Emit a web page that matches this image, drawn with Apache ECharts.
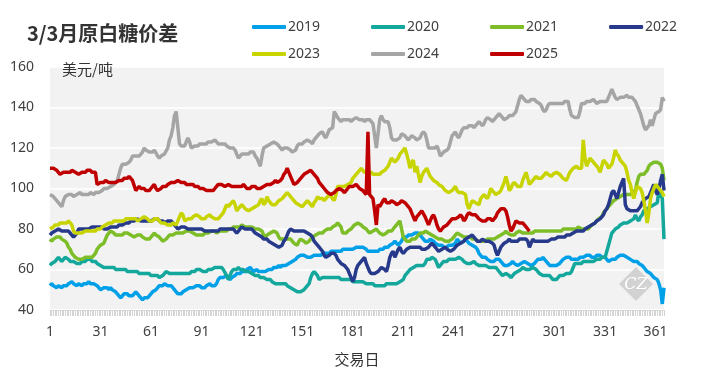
<!DOCTYPE html>
<html><head><meta charset="utf-8">
<script src="https://cdn.jsdelivr.net/npm/echarts@6/dist/echarts.min.js"></script>
<style>html,body{margin:0;padding:0;background:#fff}#c{width:702px;height:372px}</style>
</head><body><div id="c"></div>
<script>
const title = '3/3月原白糖价差';
const unit = '美元/吨';
const xName = '交易日';
const seriesNames = ['2019','2020','2021','2022','2023','2024','2025'];
const dayCount = 366;

const s2019 = [52,53,52,52,51,52,52,51,52,52, 52,53,53,54,53,53,52,53,53,52, 53,53,53,54,53,53,53,53,52,51,
50,50,51,51,51,50,51,50,50,49, 48,47,46,47,48,48,48,47,47,47, 48,49,48,47,46,45,46,46,46,47,
48,49,49,50,51,52,52,52,53,53, 52,52,52,51,51,49,48,48,48,49, 49,50,50,51,51,51,51,52,52,52,
51,51,51,52,52,53,52,52,52,53, 55,56,56,56,56,57,56,55,56,56, 57,58,58,58,59,59,59,60,60,61,
60,59,59,60,59,59,59,59,59,59, 60,60,60,61,61,61,62,61,62,62, 62,62,63,63,64,64,65,66,66,67,
67,67,67,66,66,66,66,67,67,67, 67,67,68,68,68,68,68,69,69,69, 69,69,69,69,70,70,70,70,70,70,
70,70,71,71,71,71,71,71,70,69, 69,69,69,69,69,69,70,70,70,71, 71,71,72,72,73,74,73,72,72,74,
76,76,76,77,77,77,77,78,78,78, 77,76,76,74,74,74,75,75,74,73, 73,72,72,72,71,71,71,72,72,72,
72,73,75,74,73,73,74,75,74,73, 73,72,72,71,70,68,67,66,66,66, 65,65,64,64,64,65,65,65,64,63,
62,62,62,62,63,64,63,63,62,62, 63,63,64,64,63,63,62,62,63,64, 65,65,65,66,65,64,63,62,62,62,
62,62,62,63,64,65,65,66,66,66, 65,65,65,65,65,66,66,66,66,67, 67,67,66,66,66,67,67,67,66,66,
66,65,64,64,65,65,65,66,66,67, 67,67,67,66,66,65,65,64,64,64, 63,63,62,61,60,59,59,58,57,56,
56,55,53,50,43,51];

const s2020 = [62,63,63,64,65,66,65,64,65,66, 66,65,64,64,64,64,63,63,63,64, 64,64,65,65,65,64,64,64,63,63,
62,62,61,61,61,61,61,61,61,60, 60,60,60,60,60,60,59,59,59,59, 59,59,59,58,58,58,58,58,58,58,
57,57,57,57,57,56,56,57,58,59, 59,58,58,58,58,58,58,58,58,58, 58,58,58,58,59,59,59,60,60,60,
60,59,59,59,60,60,60,60,61,61, 61,61,61,60,60,57,55,57,59,60, 60,60,61,60,60,60,59,59,59,59,
58,58,57,57,57,56,56,56,56,55, 55,55,54,54,53,53,53,53,53,53, 53,52,52,51,51,50,50,49,49,49,
49,50,51,52,53,56,58,59,59,57, 55,55,56,56,56,56,56,56,56,56, 56,56,56,55,55,55,55,55,55,55,
54,54,54,54,54,54,54,54,53,53, 53,53,53,52,52,52,52,52,52,52, 53,53,53,53,53,53,53,53,54,54,
55,57,58,59,60,60,61,61,62,62, 62,62,62,63,65,65,65,66,66,65, 63,61,62,63,64,64,64,65,65,65,
65,65,65,66,66,65,64,64,63,63, 63,63,64,63,63,62,62,62,62,62, 62,61,61,61,61,61,60,60,58,57,
57,58,58,57,56,57,58,58,59,59, 60,61,61,60,60,60,60,61,61,60, 59,58,58,57,57,57,57,57,56,55,
55,55,56,57,57,57,57,58,58,58, 59,61,63,63,63,63,63,64,64,64, 64,64,64,64,64,65,65,65,66,66,
66,69,72,75,78,79,80,80,81,82, 82,83,83,83,83,84,84,85,87,85, 84,86,87,89,89,90,90,91,91,92,
92,93,99,97,95,75];

const s2021 = [75,74,75,75,76,76,76,75,75,74, 73,71,70,68,67,66,66,65,65,65, 65,66,66,66,66,66,67,68,70,71,
72,72,73,75,77,78,79,79,78,77, 77,77,77,77,78,78,78,78,77,77, 76,76,77,77,77,76,76,75,75,75,
76,77,78,77,77,76,75,74,74,75, 76,77,77,77,77,78,78,78,78,78, 78,79,79,79,79,78,78,77,77,77,
77,77,78,78,78,78,79,79,79,78, 78,79,79,79,79,79,80,80,80,81, 81,81,81,81,82,82,81,81,81,81,
81,81,80,80,80,80,79,77,76,77, 77,78,78,79,79,78,76,75,75,75, 75,75,75,75,74,73,73,72,74,75,
75,74,73,73,74,75,76,76,77,77, 78,78,78,79,79,80,80,80,81,81, 82,83,83,81,78,78,78,79,79,80,
81,82,82,83,83,82,81,81,80,79, 78,78,79,79,80,79,78,78,77,77, 78,79,79,79,80,81,82,83,84,80,
76,75,74,74,74,75,75,75,76,77, 78,78,78,79,79,78,78,77,77,76, 76,75,75,75,75,74,74,74,74,75,
76,77,78,78,77,77,76,76,76,76, 76,75,75,75,74,74,74,74,74,74, 75,75,75,75,75,75,76,76,77,77,
78,79,78,78,77,77,77,78,78,79, 79,78,78,78,78,78,78,78,79,79, 79,79,79,79,79,79,79,79,79,79,
79,79,79,79,79,80,80,80,80,80, 80,80,80,80,81,81,80,80,80,80, 80,81,82,82,83,84,85,85,86,88,
89,90,91,92,93,94,94,95,95,96, 96,97,97,97,97,97,98,98,99,103, 106,107,107,107,108,109,111,112,112,113,
113,113,113,112,110,104];

const s2022 = [77,78,78,79,79,80,80,79,79,79, 79,79,78,77,76,76,78,80,80,80, 80,80,80,80,80,81,81,81,81,81,
81,81,80,80,80,80,81,81,81,81, 81,82,82,82,82,83,83,83,84,84, 84,84,85,85,84,84,84,84,84,84,
84,84,85,85,85,84,84,84,83,83, 84,84,84,83,82,81,80,80,81,81, 81,81,80,80,80,80,80,80,80,80,
80,80,79,79,79,79,79,79,79,79, 79,80,80,80,80,80,80,80,80,80, 79,78,79,80,81,81,80,80,80,80,
80,79,78,78,77,77,76,75,75,75, 74,74,73,73,72,72,71,71,72,74, 75,77,79,80,80,79,79,79,79,79,
79,79,79,78,78,77,76,74,73,72, 71,70,69,67,66,66,67,68,68,68, 67,65,64,63,63,62,62,60,58,56,
54,56,60,62,63,64,65,66,63,61, 59,58,58,58,58,59,60,61,61,60, 59,62,66,68,69,66,68,70,71,69,
68,69,70,70,71,71,71,71,71,71, 71,70,70,70,70,71,72,73,72,71, 70,69,69,70,70,71,70,70,69,69,
70,71,72,72,73,73,74,75,75,76, 76,77,76,75,74,74,74,75,75,74, 74,74,74,73,72,69,67,69,71,72,
73,73,74,75,74,74,74,74,74,75, 75,75,75,75,74,71,73,75,74,74, 74,74,74,74,74,74,74,74,75,75,
75,75,76,76,76,76,76,77,77,77, 77,78,78,79,79,79,79,79,80,80, 81,81,82,82,83,84,84,85,86,87,
89,90,92,95,98,99,99,95,98,101, 103,105,92,90,90,89,89,89,89,89, 90,91,93,94,95,95,96,98,100,102,
99,97,100,104,107,99];

const s2023 = [80,80,81,82,82,82,83,83,83,83, 83,84,84,82,79,78,78,78,78,78, 78,79,79,79,79,79,79,79,80,80,
80,81,81,82,82,83,83,83,84,84, 84,84,84,84,84,85,85,85,85,85, 85,85,84,84,85,85,86,86,85,84,
84,84,85,85,85,84,83,83,83,83, 82,82,82,83,83,82,84,86,88,87, 84,84,85,85,85,86,86,87,87,86,
85,85,85,86,86,87,86,86,85,85, 85,86,86,88,90,92,91,91,93,94, 92,89,90,91,92,91,90,90,89,89,
90,90,91,91,92,94,95,92,93,96, 94,93,92,92,92,93,94,94,95,96, 97,98,98,96,95,94,93,93,92,92,
91,92,93,94,93,92,91,93,94,96, 95,95,95,94,95,96,97,96,95,94, 97,101,101,101,101,101,101,102,102,103,
105,106,107,108,109,110,109,108,108,108, 108,108,107,107,107,107,107,108,108,109, 110,111,113,115,115,113,114,115,117,118,
119,120,117,114,110,113,114,108,111,107, 103,106,108,109,110,108,106,105,104,104, 103,102,102,101,100,99,99,98,98,99,
100,101,99,98,98,98,98,97,92,90, 92,94,94,93,93,92,95,96,97,96, 95,97,100,99,98,97,97,98,99,99,
103,106,103,99,100,102,103,102,101,101, 101,104,106,108,105,102,103,104,105,106, 105,105,105,106,107,108,107,107,106,107,
107,108,108,107,106,105,105,104,106,108, 109,110,110,111,110,110,110,124,115,111, 113,115,114,113,112,111,110,108,111,114,
113,112,110,110,112,115,119,117,116,114, 113,112,111,108,104,102,98,95,98,101, 101,100,98,94,89,83,88,95,98,100,
102,101,100,99,98,96];

const s2024 = [97,97,96,95,94,93,92,91,94,96, 96,97,97,97,96,96,97,97,98,97, 97,97,97,97,98,98,97,98,98,98,
98,99,100,100,100,100,101,101,102,103, 104,107,110,112,112,112,112,113,114,116, 116,116,116,116,116,118,120,119,119,118,
118,118,119,119,116,115,116,116,117,117, 120,124,126,130,136,138,130,122,121,121, 121,123,125,123,120,120,121,121,121,122,
122,122,122,122,123,123,123,123,124,123, 122,122,122,122,122,121,121,120,120,120, 119,117,115,116,117,117,117,117,117,118,
118,118,116,115,113,111,116,120,120,121, 121,122,122,123,123,122,121,120,119,120, 120,120,120,119,118,118,119,121,122,122,
122,123,123,124,124,123,122,124,125,126, 127,127,128,126,125,127,129,129,130,138, 138,135,134,133,134,134,134,134,134,133,
134,134,135,135,134,134,134,133,134,134, 134,133,132,126,120,120,134,136,134,133, 133,133,130,125,124,124,124,124,125,127,
127,126,125,124,125,126,126,125,124,124, 125,127,128,127,124,120,120,120,120,120, 121,119,116,117,118,118,119,120,123,126,
127,128,126,125,127,129,130,130,130,131, 131,131,130,131,132,133,132,131,132,134, 135,135,134,133,134,135,136,137,136,135,
134,134,135,136,136,136,137,138,138,144, 146,145,144,143,143,143,144,144,144,143, 143,142,141,139,138,139,141,142,142,142,
142,142,142,142,142,142,143,143,143,139, 136,136,135,135,135,138,142,142,142,143, 143,143,143,144,143,142,142,143,143,143,
143,143,145,147,149,147,145,144,144,145, 145,145,145,146,145,145,145,144,143,141, 139,137,134,131,129,129,131,134,131,134,
137,137,138,139,145,143];

const s2025 = [110,110,110,110,109,108,107,107,108,108, 108,108,108,109,109,108,108,107,107,108, 108,108,109,109,109,108,108,108,102,102,
103,103,103,104,104,103,103,103,103,103, 103,104,104,104,105,105,105,106,105,104, 104,99,100,101,100,100,100,99,99,99,
100,101,102,100,99,99,100,101,101,101, 102,102,103,103,103,103,104,104,103,103, 103,102,102,102,102,102,101,101,101,100,
100,100,100,99,99,99,99,99,100,101, 102,102,102,102,101,101,102,102,101,101, 101,101,101,101,101,102,101,100,100,100,
101,101,101,100,100,100,100,101,101,102, 102,102,102,103,104,103,103,104,105,107, 108,110,108,106,104,102,102,103,104,105,
106,107,107,108,108,109,108,107,106,105, 103,102,101,100,99,98,98,97,97,98, 99,99,100,100,99,98,99,100,101,101,
101,101,102,101,100,100,99,98,97,128, 97,96,95,89,82,92,91,91,94,95, 93,93,93,94,94,93,92,92,93,94,
94,93,92,92,90,88,86,84,86,87, 88,89,89,86,84,82,84,86,87,85, 82,80,79,80,81,81,82,83,84,85,
85,85,85,86,87,86,84,85,87,88, 88,87,87,87,86,85,85,84,84,84, 85,85,85,84,84,86,88,89,90,90,
90,89,86,82,79,80,82,84,84,83, 83,83,82,81,80,79];

const seriesData = [s2019, s2020, s2021, s2022, s2023, s2024, s2025];
const colors = ['#00a0e9','#14a89c','#7dbe28','#27398a','#c8d400','#a5a5a5','#c00000'];
const yTicks = [40, 60, 80, 100, 120, 140, 160];

const days = [];
for (let i = 1; i <= dayCount; i++) days.push(String(i));

const chart = echarts.init(document.getElementById('c'), null, {renderer: 'canvas'});
const legendBase = {
  orient: 'horizontal', itemWidth: 34, itemHeight: 4, itemGap: 51, icon: 'roundRect',
  textStyle: {color: '#404040', fontSize: 14, fontFamily: 'Noto Sans', padding: [0, 0, 0, -3]}
};
chart.setOption({
  animation: false,
  color: colors,
  title: [
    {text: title, left: 22, top: 18, textStyle: {fontSize: 20, fontWeight: 'bold', color: '#333', fontFamily: 'Noto Sans CJK SC'}},
    {text: unit, left: 57, top: 57, textStyle: {fontSize: 15, fontWeight: 'normal', color: '#333', fontFamily: 'Noto Sans CJK SC'}}
  ],
  legend: [
    Object.assign({}, legendBase, {left: 247, top: 15, data: seriesNames.slice(0, 4)}),
    Object.assign({}, legendBase, {left: 247, top: 42, data: seriesNames.slice(4)})
  ],
  grid: {left: 50, right: 38, top: 67, bottom: 60, show: true, backgroundColor: '#f2f2f2', borderWidth: 0, containLabel: false},
  xAxis: {
    type: 'category', data: days, boundaryGap: false,
    name: xName, nameLocation: 'middle', nameGap: 42,
    nameTextStyle: {fontSize: 15, color: '#333', fontFamily: 'Noto Sans CJK SC'},
    axisLine: {show: true, lineStyle: {color: '#d9d9d9', width: 1}},
    axisTick: {show: true, interval: 0, length: 6, lineStyle: {color: '#d4d4d4', width: 1}},
    axisLabel: {interval: 29, color: '#404040', fontSize: 14, margin: 15, fontFamily: 'Noto Sans'},
    splitLine: {show: false}
  },
  yAxis: {
    type: 'value', min: yTicks[0], max: yTicks[yTicks.length - 1], interval: 20,
    axisLine: {show: false}, axisTick: {show: false},
    axisLabel: {color: '#404040', fontSize: 14, margin: 16, fontFamily: 'Noto Sans'},
    splitLine: {show: true, lineStyle: {color: '#ffffff', width: 1.5}}
  },
  graphic: [
    {type: 'rect', z: 1, x: 636, y: 284, rotation: Math.PI / 4,
     shape: {x: -12, y: -12, width: 24, height: 24}, style: {fill: '#d2d2d2'}},
    {type: 'text', z: 1, x: 636, y: 285,
     style: {text: 'CZ', fill: '#ffffff', font: 'italic 16px "DejaVu Serif"', align: 'center', verticalAlign: 'middle'}}
  ],
  series: seriesNames.map((n, i) => ({
    name: n, type: 'line', data: seriesData[i], showSymbol: false, symbol: 'none',
    lineStyle: {width: 3.5, color: colors[i]}, itemStyle: {color: colors[i]}, z: 2 + i
  }))
});
</script></body></html>
